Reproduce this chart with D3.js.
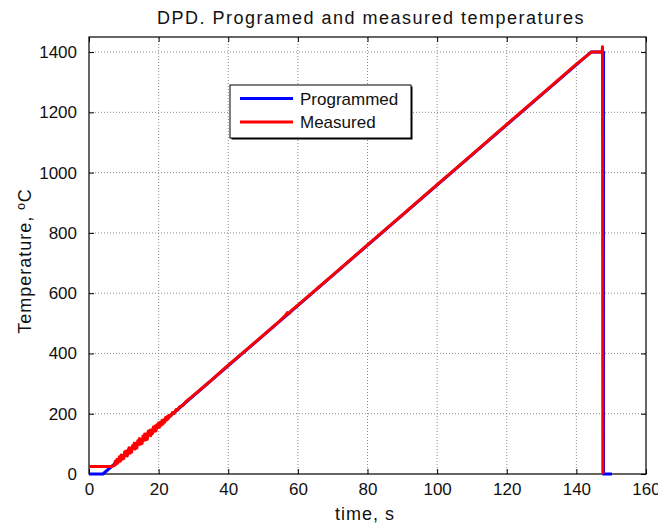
<!DOCTYPE html>
<html>
<head>
<meta charset="utf-8">
<script src="https://cdn.jsdelivr.net/npm/d3@7"></script>
<style>
  html, body { margin: 0; padding: 0; background: #fff; }
  svg { display: block; font-family: "Liberation Sans", Arial, sans-serif; }
</style>
</head>
<body>
<svg id="chart" width="658" height="527"></svg>
<script>
// Axis ticks
const xTicks = [0, 20, 40, 60, 80, 100, 120, 140, 160];
const yTicks = [0, 200, 400, 600, 800, 1000, 1200, 1400];

// Programmed temperature profile: [time s, temperature °C]
const programmed = [
  [0, 0], [4, 0], [144.2, 1400], [147.8, 1400], [147.8, 0], [150.2, 0]
];

// Measured thermocouple temperature: [time s, temperature °C]
const measured = [
  [0, 25], [6.7, 25], [7.0, 28], [7.25, 28], [7.5, 41], [7.75, 32], [8.0, 48],
  [8.25, 36], [8.5, 49], [8.75, 57], [9.0, 42], [9.25, 63], [9.5, 49],
  [9.75, 61], [10.0, 51], [10.25, 74], [10.5, 61], [10.75, 76], [11.0, 60],
  [11.25, 79], [11.5, 87], [11.75, 69], [12.0, 85], [12.25, 72], [12.5, 94],
  [12.75, 85], [13.0, 102], [13.25, 83], [13.5, 102], [13.75, 86], [14.0, 110],
  [14.25, 98], [14.5, 118], [14.75, 99], [15.0, 114], [15.25, 101], [15.5, 126],
  [15.75, 112], [16.0, 133], [16.25, 113], [16.5, 133], [16.75, 115], [17.0, 142],
  [17.25, 129], [17.5, 145], [17.75, 127], [18.0, 147], [18.25, 134], [18.5, 156],
  [18.75, 142], [19.0, 159], [19.25, 143], [19.5, 163], [19.75, 154], [20.0, 169],
  [20.25, 155], [20.5, 172], [20.75, 162], [21.0, 178], [21.25, 166], [21.5, 180],
  [21.75, 172], [22.0, 187], [22.25, 179], [22.5, 191], [22.75, 183], [23.0, 195],
  [23.5, 192], [24.0, 204], [24.5, 201], [25.0, 214], [25.5, 212], [26.0, 223],
  [27.0, 228], [28.0, 242], [30.0, 261], [35.0, 310], [40.0, 361], [45.0, 410],
  [50.0, 460], [55.0, 510], [56.5, 527], [57.0, 536], [57.5, 532], [58.0, 541],
  [60.0, 560], [70.0, 660], [80.0, 760], [90.0, 860], [100.0, 960], [110.0, 1060],
  [120.0, 1160], [130.0, 1260], [140.0, 1360], [144.3, 1400], [147.4, 1400],
  [147.5, 1418], [147.6, 0]
];

const W = 658, H = 527;
const margin = { left: 89, right: 12, top: 37, bottom: 53 };

const svg = d3.select("#chart");

const x = d3.scaleLinear().domain([0, 160]).range([margin.left, W - margin.right]);
const y = d3.scaleLinear().domain([0, 1450]).range([H - margin.bottom, margin.top]);

const x0 = x.range()[0], x1 = x.range()[1];
const y0 = y.range()[0], y1 = y.range()[1];

// Dotted grid
const grid = svg.append("g").attr("stroke", "#808080").attr("stroke-width", 0.9)
  .attr("stroke-dasharray", "1,2");
xTicks.slice(1, -1).forEach(t => {
  grid.append("line").attr("x1", x(t)).attr("x2", x(t)).attr("y1", y0).attr("y2", y1);
});
yTicks.slice(1).forEach(t => {
  grid.append("line").attr("x1", x0).attr("x2", x1).attr("y1", y(t)).attr("y2", y(t));
});

// Axes with inward ticks
const fontSize = 17;
const fmt = d3.format("d");
const xAxis = d3.axisBottom(x).tickValues(xTicks).tickFormat(fmt).tickSizeInner(-5).tickSizeOuter(0).tickPadding(9);
const yAxis = d3.axisLeft(y).tickValues(yTicks).tickFormat(fmt).tickSizeInner(-5).tickSizeOuter(0).tickPadding(12);
const xTop = d3.axisTop(x).tickValues(xTicks).tickSizeInner(-5).tickSizeOuter(0).tickFormat("");
const yRight = d3.axisRight(y).tickValues(yTicks).tickSizeInner(-5).tickSizeOuter(0).tickFormat("");

function styleAxis(g) {
  g.select(".domain").remove();
  g.selectAll("line").attr("stroke", "#000").attr("stroke-width", 1);
  g.selectAll("text").attr("fill", "#111").style("font-size", fontSize + "px")
    .style("font-family", "'Liberation Sans', Arial, sans-serif");
}

svg.append("g").attr("transform", `translate(0,${y0})`).call(xAxis).call(styleAxis);
svg.append("g").attr("transform", `translate(${x0},0)`).call(yAxis).call(styleAxis);
svg.append("g").attr("transform", `translate(0,${y1})`).call(xTop).call(styleAxis);
svg.append("g").attr("transform", `translate(${x1},0)`).call(yRight).call(styleAxis);

// Box
svg.append("rect").attr("x", x0).attr("y", y1).attr("width", x1 - x0).attr("height", y0 - y1)
  .attr("fill", "none").attr("stroke", "#000").attr("stroke-width", 1.2);

// Series
const line = d3.line().x(d => x(d[0])).y(d => y(d[1]));
const plot = svg.append("g");
plot.append("path").datum(programmed).attr("d", line)
  .attr("fill", "none").attr("stroke", "#0000ff").attr("stroke-width", 3)
  .attr("stroke-linejoin", "round");
plot.append("path").datum(measured).attr("d", line)
  .attr("fill", "none").attr("stroke", "#ff0000").attr("stroke-width", 3)
  .attr("stroke-linejoin", "round");

// Title and axis labels
svg.append("text").attr("x", 371).attr("y", 23.5).attr("text-anchor", "middle")
  .style("font-size", "18px").style("letter-spacing", "1.5px").attr("fill", "#111")
  .text("DPD. Programed and measured temperatures");
svg.append("text").attr("x", 365).attr("y", 520).attr("text-anchor", "middle")
  .style("font-size", "18px").style("letter-spacing", "1px").attr("fill", "#111").text("time, s");
svg.append("text").attr("transform", `translate(31,261) rotate(-90)`)
  .attr("text-anchor", "middle").style("font-size", "18px").style("letter-spacing", "1px")
  .attr("fill", "#111").text("Temperature, ºC");

// Legend
const lg = svg.append("g");
const lx = 230, ly = 85, lw = 181, lh = 53;
lg.append("rect").attr("x", lx + 1.5).attr("y", ly + 1.5).attr("width", lw).attr("height", lh)
  .attr("fill", "#000");
lg.append("rect").attr("x", lx).attr("y", ly).attr("width", lw).attr("height", lh)
  .attr("fill", "#fff").attr("stroke", "#000").attr("stroke-width", 1);
const entries = [["Programmed", "#0000ff"], ["Measured", "#ff0000"]];
entries.forEach((e, i) => {
  const yy = ly + 13.5 + i * 23.5;
  lg.append("line").attr("x1", lx + 10).attr("x2", lx + 63).attr("y1", yy).attr("y2", yy)
    .attr("stroke", e[1]).attr("stroke-width", 3);
  lg.append("text").attr("x", lx + 70).attr("y", yy + 6).style("font-size", fontSize + "px")
    .attr("fill", "#111").text(e[0]);
});
</script>
</body>
</html>
